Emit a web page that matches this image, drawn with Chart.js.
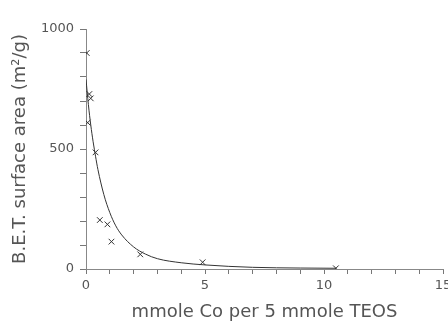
<!DOCTYPE html>
<html>
<head>
<meta charset="utf-8">
<script src="https://cdn.jsdelivr.net/npm/chart.js@4"></script>
<style>
  html, body { margin: 0; padding: 0; background: #fff; }
  #wrap { width: 448px; height: 327px; }
</style>
</head>
<body>
<div id="wrap"><canvas id="myChart"></canvas></div>
<script>
// measured points (x = mmole Co, y = BET area m2/g)
const pointX = [0.03, 0.14, 0.2, 0.07, 0.4, 0.58, 0.9, 1.07, 2.28, 4.9, 10.5];
const pointY = [900, 729, 711, 610, 486, 204, 186, 114, 61, 28, 3];

// fitted curve
const curveX = [0, 0.1, 0.2, 0.3, 0.4, 0.5, 0.75, 1.0, 1.25, 1.5, 2.0, 2.5, 3.0, 4.0, 5.0, 6.0, 7.0, 8.0, 9.0, 10.5];
const curveY = [790, 685, 600, 530, 470, 415, 310, 235, 180, 142, 92, 62, 43, 26, 17, 11, 7, 5, 4, 3];

const xTickLabels = [0, 5, 10, 15];
const yTickLabels = [0, 500, 1000];

const ink = '#555';
const line = '#333';
const family = 'DejaVu Sans, sans-serif';

const ctx = document.getElementById('myChart');
new Chart(ctx, {
    type: 'scatter',
    data: {
        datasets: [{
            label: 'fit',
            data: curveX.map((x, i) => ({ x: x, y: curveY[i] })),
            showLine: true,
            borderColor: line,
            borderWidth: 1,
            pointRadius: 0,
            cubicInterpolationMode: 'monotone'
        }, {
            label: 'measured',
            data: pointX.map((x, i) => ({ x: x, y: pointY[i] })),
            pointStyle: 'crossRot',
            pointRadius: 4,
            borderColor: line,
            borderWidth: 1
        }]
    },
    options: {
        animation: false,
        responsive: true,
        maintainAspectRatio: false,
        layout: { padding: { top: 29, right: 2, left: 0, bottom: 0 } },
        plugins: { legend: { display: false }, tooltip: { enabled: false } },
        scales: {
            x: {
                type: 'linear',
                min: 0, max: 15,
                afterFit: (s) => { s.height = 58; s.paddingLeft = 0; s.paddingRight = 0; },
                border: { display: true, color: '#888', dash: [1, 1] },
                grid: { drawOnChartArea: false, tickLength: 5, color: '#777' },
                ticks: {
                    stepSize: 1,
                    padding: 4,
                    color: ink,
                    font: { family: family, size: 13 },
                    maxRotation: 0,
                    autoSkip: false,
                    callback: (v) => xTickLabels.includes(v) ? v : ''
                },
                title: {
                    display: true,
                    text: 'mmole Co per 5 mmole TEOS',
                    color: ink,
                    font: { family: family, size: 18 },
                    padding: { top: 0 }
                }
            },
            y: {
                type: 'linear',
                min: 0, max: 1000,
                afterFit: (s) => { s.width = 86; s.paddingTop = 0; s.paddingBottom = 0; },
                border: { display: true, color: '#888', dash: [1, 1] },
                grid: { drawOnChartArea: false, tickLength: 6, color: '#777' },
                ticks: {
                    stepSize: 100,
                    padding: 6,
                    color: ink,
                    font: { family: family, size: 13 },
                    autoSkip: false,
                    callback: (v) => yTickLabels.includes(v) ? v : ''
                },
                title: {
                    display: true,
                    text: 'B.E.T. surface area (m²/g)',
                    color: ink,
                    font: { family: family, size: 18 },
                    padding: { top: 10, bottom: 0 }
                }
            }
        }
    }
});
</script>
</body>
</html>
